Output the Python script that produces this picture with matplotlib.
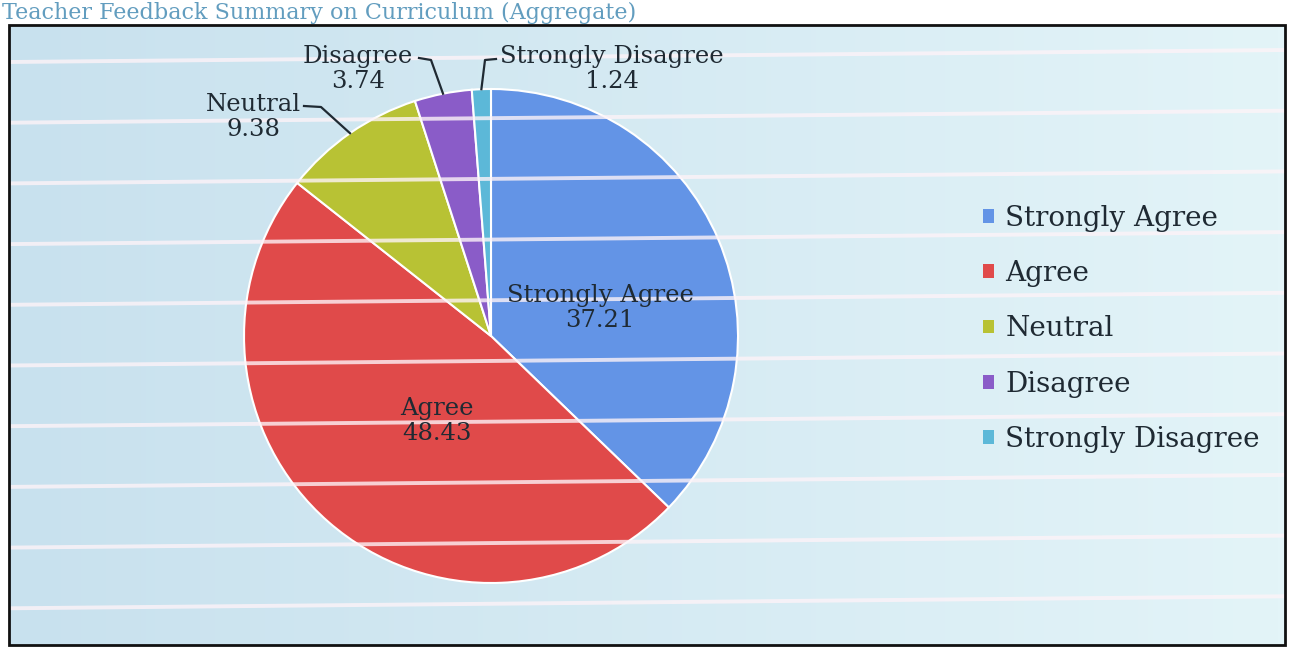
import matplotlib
matplotlib.use("Agg")
import matplotlib.pyplot as plt
import numpy as np
from matplotlib.patches import Rectangle
from matplotlib.colors import LinearSegmentedColormap

# ---------------- data ----------------
categories = ["Strongly Agree", "Agree", "Neutral", "Disagree", "Strongly Disagree"]
values = [37.21, 48.43, 9.38, 3.74, 1.24]
value_labels = ["37.21", "48.43", "9.38", "3.74", "1.24"]
title = "Teacher Feedback Summary on Curriculum (Aggregate)"

# ---------------- style ----------------
colors = ["#6394e6", "#e04a4a", "#b8c234", "#8a5cc8", "#5cb8d8"]
FONT = "DejaVu Serif"
W, H = 1293, 652

fig = plt.figure(figsize=(W / 100, H / 100), dpi=100)
ax = fig.add_axes([0, 0, 1, 1])


def Y(y):
    return H - y


# frame + background gradient
fx0, fx1, fy0, fy1 = 9, 1285, 25, 645
grad = np.linspace(0, 1, 256).reshape(1, -1)
cmap = LinearSegmentedColormap.from_list("bg", ["#c8e1ee", "#e3f4f8"])
ax.imshow(grad, extent=(fx0, fx1, Y(fy1), Y(fy0)), cmap=cmap,
          aspect="auto", zorder=0, interpolation="bilinear")

# pie
cx, cy, R = 491, Y(336), 247
wedges, _ = ax.pie(values, colors=colors, startangle=90, counterclock=False,
                   center=(cx, cy), radius=R, frame=True,
                   wedgeprops=dict(edgecolor="white", linewidth=1.5))
for w in wedges:
    w.set_zorder(2)

# scan stripes across the panel
frame_clip = Rectangle((fx0, Y(fy1)), fx1 - fx0, fy1 - fy0, transform=ax.transData)
for k in range(10):
    yl = 62 + 60.7 * k
    ln, = ax.plot([fx0, fx1], [Y(yl), Y(yl - 12)], color="#fdf3f8",
                  lw=2.8, alpha=0.8, zorder=3, solid_capstyle="butt")
    ln.set_clip_path(frame_clip)

# frame border
ax.add_patch(Rectangle((fx0, Y(fy1)), fx1 - fx0, fy1 - fy0, fill=False,
                       edgecolor="#111111", lw=2.0, zorder=6))

# data labels
label_pos = [(600, 308), (437, 421), (253, 117), (358, 69), (612, 69)]
lab_fs = 17.5
for i, (name, val) in enumerate(zip(categories, value_labels)):
    x, y = label_pos[i]
    ax.text(x, Y(y), f"{name}\n{val}", ha="center", va="center",
            fontsize=lab_fs, family=FONT, color="#1f2a33",
            linespacing=1.15, zorder=7)

# leader lines for outside labels
def edge_point(w):
    mid = np.deg2rad((w.theta1 + w.theta2) / 2)
    return cx + R * np.cos(mid), cy + R * np.sin(mid)

leaders = {2: [(321, 107), (304, 106)],
           3: [(431, 60), (419, 58)],
           4: [(485, 60), (496, 59)]}
for i, pts in leaders.items():
    ex, ey = edge_point(wedges[i])
    xs = [ex] + [p[0] for p in pts]
    ys = [ey] + [Y(p[1]) for p in pts]
    ax.plot(xs, ys, color="#1f2a33", lw=1.6, zorder=7)

# legend
leg = ax.legend(wedges, categories, loc="center left",
                bbox_to_anchor=(983 / W, Y(329) / H), bbox_transform=fig.transFigure,
                frameon=False, prop=dict(family=FONT, size=20),
                handlelength=0.38, handleheight=0.38, handletextpad=0.42,
                labelspacing=1.02, borderpad=0, borderaxespad=0)
for t in leg.get_texts():
    t.set_color("#1f2a33")
for h in leg.legend_handles:
    h.set_edgecolor("none")
leg.set_zorder(8)

# title above the frame
ax.text(2, Y(2), title, ha="left", va="top", fontsize=16,
        family=FONT, color="#629dbf", zorder=8)

ax.set_xlim(0, W)
ax.set_ylim(0, H)
ax.set_aspect("equal")
ax.axis("off")
fig.patch.set_facecolor("white")
fig.savefig("out.png", dpi=100, facecolor="white")
